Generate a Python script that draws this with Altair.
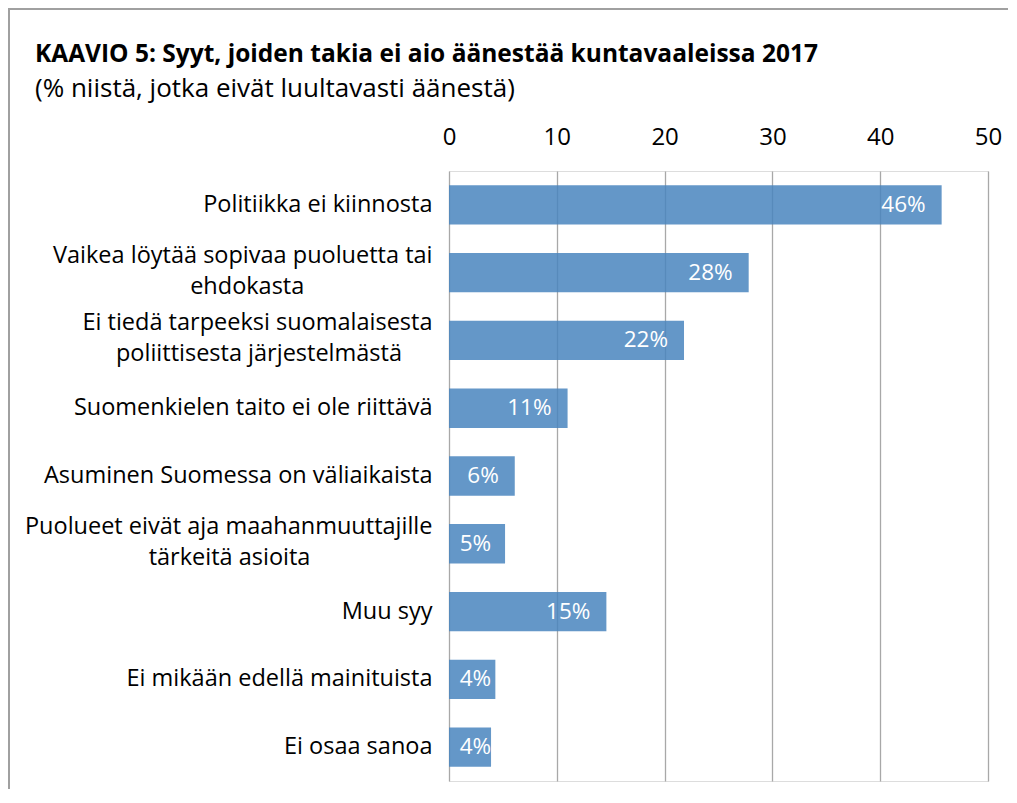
import altair as alt
import pandas as pd

# ---- data ----
label_lines = [
    ["Politiikka ei kiinnosta"],
    ["Vaikea löytää sopivaa puoluetta tai", "ehdokasta"],
    ["Ei tiedä tarpeeksi suomalaisesta", "poliittisesta järjestelmästä"],
    ["Suomenkielen taito ei ole riittävä"],
    ["Asuminen Suomessa on väliaikaista"],
    ["Puolueet eivät aja maahanmuuttajille", "tärkeitä asioita"],
    ["Muu syy"],
    ["Ei mikään edellä mainituista"],
    ["Ei osaa sanoa"],
]
values = [45.7, 27.8, 21.8, 11.0, 6.1, 5.2, 14.6, 4.3, 3.9]
value_labels = ["46%", "28%", "22%", "11%", "6%", "5%", "15%", "4%", "4%"]
x_ticks = [0, 10, 20, 30, 40, 50]

title_text = "KAAVIO 5: Syyt, joiden takia ei aio äänestää kuntavaaleissa 2017"
subtitle_text = "(% niistä, jotka eivät luultavasti äänestä)"

# trailing no-break spaces (ended by a zero-width space so they are not trimmed)
# make the second line of a wrapped label sit centred under the first
second_line_pad = {1: 21, 2: 5, 5: 20}

cats = []
for i, lines in enumerate(label_lines):
    if len(lines) > 1:
        pad = second_line_pad.get(i, 0)
        lines = [lines[0], lines[1] + "\u00a0" * pad + "\u200b"]
    cats.append("|".join(lines))

df = pd.DataFrame({"cat": cats, "value": values, "lbl": value_labels})
df_title = pd.DataFrame({"t": [title_text], "s": [subtitle_text]})

FONT = "Open Sans"
BAR = "#4985BE"   # drawn at 0.85 opacity -> #6497C8 on white

base = alt.Chart(df)

y_enc = alt.Y(
    "cat:N",
    sort=None,
    title=None,
    scale=alt.Scale(paddingInner=0.42, paddingOuter=0.21),
    axis=alt.Axis(
        labelExpr="split(datum.value, '|')",
        labelFont=FONT,
        labelFontSize=23.5,
        labelColor="#000000",
        labelLineHeight=31,
        labelPadding=17,
        labelLimit=600,
        labelOffset={
            "condition": {"test": "indexof(datum.value, '|') >= 0", "value": -17},
            "value": 0,
        },
        ticks=False,
        domain=False,
        grid=False,
    ),
)

bars = base.mark_bar(color=BAR, opacity=0.85).encode(
    x=alt.X(
        "value:Q",
        title=None,
        scale=alt.Scale(domain=[0, 50], nice=False),
        axis=alt.Axis(
            orient="top",
            values=x_ticks,
            labelFont=FONT,
            labelFontSize=24,
            labelColor="#000000",
            labelPadding=22,
            labelFlush=False,
            ticks=False,
            domain=False,
            grid=True,
            gridColor="#A8A8A8",
            gridWidth=1.3,
        ),
    ),
    y=y_enc,
)

# labels sit just inside the bar end; very short bars keep them from spilling left
text = (
    base.transform_calculate(lpos="max(datum.value, 5.4)")
    .mark_text(align="right", baseline="middle", dx=-16, color="white", fontSize=22.5, font=FONT)
    .encode(x="lpos:Q", y=alt.Y("cat:N", sort=None), text="lbl:N")
)

frame = base.mark_rect(fill=None, stroke="#A0A0A0", strokeWidth=1.5).encode(
    x=alt.value(-440), x2=alt.value(600), y=alt.value(-162), y2=alt.value(700)
)

tbase = alt.Chart(df_title)
title_mark = tbase.mark_text(
    align="left", baseline="alphabetic", font=FONT, fontSize=24.5, fontWeight="bold", color="#000000"
).encode(text="t:N", x=alt.value(-414), y=alt.value(-109))
subtitle_mark = tbase.mark_text(
    align="left", baseline="alphabetic", font=FONT, fontSize=26, color="#000000"
).encode(text="s:N", x=alt.value(-414), y=alt.value(-74))

chart = (
    alt.layer(frame, bars, text, title_mark, subtitle_mark)
    .properties(
        width=539,
        height=610,
        padding={"left": 441, "top": 163, "right": 20, "bottom": 8},
        autosize=alt.AutoSizeParams(type="none"),
    )
    .configure_view(stroke=None)
    .configure(background="white")
)

chart.save("out.html", embed_options={"renderer": "svg", "actions": False})
